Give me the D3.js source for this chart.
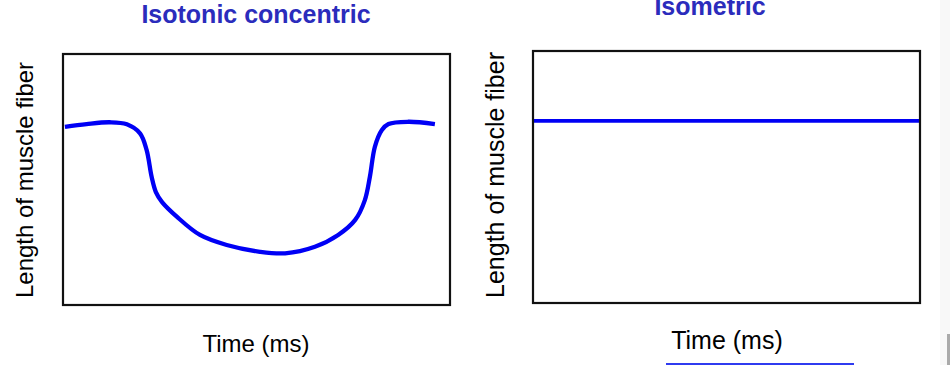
<!DOCTYPE html>
<html>
<head>
<meta charset="utf-8">
<script src="https://cdn.jsdelivr.net/npm/d3@7"></script>
<style>
  html, body { margin: 0; padding: 0; background: #fff; }
  svg { display: block; }
</style>
</head>
<body>
<div id="svgContainer"></div>
<script>
// values (time and length in arbitrary units, 0-100)
var concentricTime = [0.5, 6.1, 12.1, 16.5, 19.9, 21.6, 22.9, 24.0, 25.6, 29.4, 35.4, 42.3, 50.9,
  57.4, 65.1, 71.1, 75.5, 78.0, 79.3, 80.6, 82.4, 84.1, 89.2, 96.1];
var concentricLength = [71.0, 72.1, 72.8, 72.0, 68.4, 61.8, 51.1, 45.0, 41.0, 35.2, 27.9, 23.9, 21.2,
  20.6, 23.2, 27.9, 33.9, 41.8, 51.1, 63.1, 69.7, 72.1, 73.0, 72.1];
var isometricTime = [0, 100];
var isometricLength = [72.3, 72.3];
var titles = ["Isotonic concentric", "Isometric"];
var xLabel = "Time (ms)";
var yLabel = "Length of muscle fiber";

var width = 950, height = 365;
var svg = d3.select("#svgContainer").append("svg")
  .attr("width", width).attr("height", height)
  .attr("font-family", "Arial, 'Liberation Sans', sans-serif");

// faint strip at the right edge of the screenshot
svg.append("rect").attr("x", 940).attr("y", 0).attr("width", 10).attr("height", height).attr("fill", "#f8f8f8");
svg.append("rect").attr("x", 947).attr("y", 334).attr("width", 3).attr("height", 31).attr("fill", "#aaa");

var panels = [
  { title: titles[0], x0: 63, x1: 450, y0: 54, y1: 305, titleX: 256, titleY: 23, fs: 24,
    xLabX: 256, xLabY: 352, yLabX: 33, yLabY: 180, lw: 4.3,
    pts: concentricTime.map((t, i) => [t, concentricLength[i]]) },
  { title: titles[1], x0: 533, x1: 920, y0: 51, y1: 303, titleX: 710, titleY: 15, fs: 25,
    xLabX: 727, xLabY: 349, yLabX: 504, yLabY: 175, lw: 3.8,
    pts: isometricTime.map((t, i) => [t, isometricLength[i]]) }
];

panels.forEach(function (p) {
  var x = d3.scaleLinear().domain([0, 100]).range([p.x0, p.x1]);
  var y = d3.scaleLinear().domain([0, 100]).range([p.y1, p.y0]);
  var g = svg.append("g");

  var line = d3.line()
    .x(d => x(d[0]))
    .y(d => y(d[1]))
    .curve(d3.curveCatmullRom.alpha(0.5));

  g.append("path")
    .datum(p.pts)
    .attr("d", line)
    .attr("fill", "none")
    .attr("stroke", "#0000f5")
    .attr("stroke-width", p.lw)
    .attr("stroke-linecap", "butt");

  g.append("rect")
    .attr("x", p.x0).attr("y", p.y0)
    .attr("width", p.x1 - p.x0).attr("height", p.y1 - p.y0)
    .attr("fill", "none").attr("stroke", "#111").attr("stroke-width", 2.2);

  g.append("text")
    .attr("x", p.titleX).attr("y", p.titleY)
    .attr("text-anchor", "middle")
    .attr("font-size", 25).attr("font-weight", "bold")
    .attr("fill", "#2b2cbc")
    .text(p.title);

  g.append("text")
    .attr("x", p.xLabX).attr("y", p.xLabY)
    .attr("text-anchor", "middle")
    .attr("font-size", p.fs).attr("fill", "#000")
    .text(xLabel);

  g.append("text")
    .attr("transform", `translate(${p.yLabX},${p.yLabY}) rotate(-90)`)
    .attr("text-anchor", "middle")
    .attr("font-size", p.fs).attr("fill", "#000")
    .text(yLabel);
});

// blue underline below the right axis label
svg.append("line")
  .attr("x1", 666).attr("x2", 854).attr("y1", 364).attr("y2", 364)
  .attr("stroke", "#2f3bf0").attr("stroke-width", 2);
</script>
</body>
</html>
